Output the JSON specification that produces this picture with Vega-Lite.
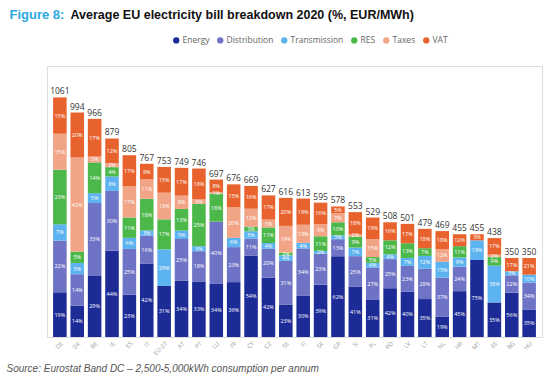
{
  "$schema": "https://vega.github.io/schema/vega-lite/v6.json",
  "autosize": {"type": "none"},
  "padding": {"left": 47, "top": 66, "right": 8, "bottom": 42},
  "width": 495,
  "height": 271,
  "background": "white",
  "datasets": {
    "seg": [
      {"c":"DE","k":"Energy","v":198,"p":0.19},{"c":"DE","k":"Distribution","v":229,"p":0.22},{"c":"DE","k":"Transmission","v":72,"p":0.07},{"c":"DE","k":"RES","v":242,"p":0.23},{"c":"DE","k":"Taxes","v":159,"p":0.15},{"c":"DE","k":"VAT","v":161,"p":0.15},
      {"c":"DK","k":"Energy","v":139,"p":0.14},{"c":"DK","k":"Distribution","v":139,"p":0.14},{"c":"DK","k":"Transmission","v":50,"p":0.05},{"c":"DK","k":"RES","v":50,"p":0.05},{"c":"DK","k":"Taxes","v":417,"p":0.42},{"c":"DK","k":"VAT","v":199,"p":0.20},
      {"c":"BE","k":"Energy","v":273,"p":0.29},{"c":"BE","k":"Distribution","v":320,"p":0.33},{"c":"BE","k":"Transmission","v":44,"p":0.05},{"c":"BE","k":"RES","v":136,"p":0.14},{"c":"BE","k":"Taxes","v":26,"p":0.03},{"c":"BE","k":"VAT","v":167,"p":0.17},
      {"c":"IE","k":"Energy","v":382,"p":0.44},{"c":"IE","k":"Distribution","v":265,"p":0.30},{"c":"IE","k":"Transmission","v":64,"p":0.08},{"c":"IE","k":"RES","v":41,"p":0.04},{"c":"IE","k":"Taxes","v":18,"p":0.02},{"c":"IE","k":"VAT","v":109,"p":0.12},
      {"c":"ES","k":"Energy","v":187,"p":0.23},{"c":"ES","k":"Distribution","v":203,"p":0.25},{"c":"ES","k":"Transmission","v":49,"p":0.06},{"c":"ES","k":"RES","v":90,"p":0.11},{"c":"ES","k":"Taxes","v":138,"p":0.17},{"c":"ES","k":"VAT","v":138,"p":0.17},
      {"c":"IT","k":"Energy","v":325,"p":0.42},{"c":"IT","k":"Distribution","v":124,"p":0.16},{"c":"IT","k":"Transmission","v":23,"p":0.03},{"c":"IT","k":"RES","v":140,"p":0.18},{"c":"IT","k":"Taxes","v":86,"p":0.11},{"c":"IT","k":"VAT","v":69,"p":0.09},
      {"c":"EU-27","k":"Energy","v":226,"p":0.31},{"c":"EU-27","k":"Transmission","v":162,"p":0.29},{"c":"EU-27","k":"RES","v":133,"p":0.17},{"c":"EU-27","k":"Taxes","v":118,"p":0.13},{"c":"EU-27","k":"VAT","v":114,"p":0.15},
      {"c":"AT","k":"Energy","v":250,"p":0.34},{"c":"AT","k":"Distribution","v":184,"p":0.25},{"c":"AT","k":"Transmission","v":37,"p":0.05},{"c":"AT","k":"RES","v":96,"p":0.13},{"c":"AT","k":"Taxes","v":59,"p":0.08},{"c":"AT","k":"VAT","v":123,"p":0.17},
      {"c":"PT","k":"Energy","v":246,"p":0.33},{"c":"PT","k":"Distribution","v":134,"p":0.18},{"c":"PT","k":"Transmission","v":22,"p":0.03},{"c":"PT","k":"RES","v":187,"p":0.25},{"c":"PT","k":"Taxes","v":22,"p":0.03},{"c":"PT","k":"VAT","v":135,"p":0.18},
      {"c":"LU","k":"Energy","v":235,"p":0.34},{"c":"LU","k":"Distribution","v":276,"p":0.40},{"c":"LU","k":"RES","v":124,"p":0.18},{"c":"LU","k":"Taxes","v":7,"p":0.01},{"c":"LU","k":"VAT","v":55,"p":0.08},
      {"c":"FR","k":"Energy","v":243,"p":0.36},{"c":"FR","k":"Distribution","v":155,"p":0.23},{"c":"FR","k":"Transmission","v":41,"p":0.06},{"c":"FR","k":"Taxes","v":135,"p":0.20},{"c":"FR","k":"VAT","v":102,"p":0.15},
      {"c":"CY","k":"Energy","v":361,"p":0.54},{"c":"CY","k":"Distribution","v":74,"p":0.11},{"c":"CY","k":"Transmission","v":33,"p":0.05},{"c":"CY","k":"RES","v":20,"p":0.03},{"c":"CY","k":"Taxes","v":80,"p":0.12},{"c":"CY","k":"VAT","v":101,"p":0.16},
      {"c":"CZ","k":"Energy","v":263,"p":0.42},{"c":"CZ","k":"Distribution","v":128,"p":0.20},{"c":"CZ","k":"Transmission","v":25,"p":0.04},{"c":"CZ","k":"RES","v":69,"p":0.11},{"c":"CZ","k":"Taxes","v":35,"p":0.03},{"c":"CZ","k":"VAT","v":107,"p":0.17},
      {"c":"SE","k":"Energy","v":144,"p":0.23},{"c":"SE","k":"Distribution","v":193,"p":0.31},{"c":"SE","k":"Transmission","v":25,"p":0.04},{"c":"SE","k":"RES","v":12,"p":0.02},{"c":"SE","k":"Taxes","v":118,"p":0.19},{"c":"SE","k":"VAT","v":124,"p":0.20},
      {"c":"FI","k":"Energy","v":184,"p":0.30},{"c":"FI","k":"Distribution","v":208,"p":0.34},{"c":"FI","k":"Transmission","v":25,"p":0.04},{"c":"FI","k":"Taxes","v":80,"p":0.13},{"c":"FI","k":"VAT","v":116,"p":0.19},
      {"c":"SK","k":"Energy","v":232,"p":0.39},{"c":"SK","k":"Distribution","v":137,"p":0.23},{"c":"SK","k":"Transmission","v":12,"p":0.02},{"c":"SK","k":"RES","v":65,"p":0.11},{"c":"SK","k":"Taxes","v":54,"p":0.09},{"c":"SK","k":"VAT","v":95,"p":0.16},
      {"c":"GR","k":"Energy","v":358,"p":0.62},{"c":"GR","k":"Distribution","v":75,"p":0.13},{"c":"GR","k":"Transmission","v":17,"p":0.03},{"c":"GR","k":"RES","v":58,"p":0.10},{"c":"GR","k":"Taxes","v":40,"p":0.07},{"c":"GR","k":"VAT","v":30,"p":0.05},
      {"c":"SI","k":"Energy","v":222,"p":0.41},{"c":"SI","k":"Distribution","v":136,"p":0.25},{"c":"SI","k":"Transmission","v":38,"p":0.07},{"c":"SI","k":"RES","v":49,"p":0.09},{"c":"SI","k":"Taxes","v":11,"p":0.02},{"c":"SI","k":"VAT","v":97,"p":0.18},
      {"c":"PL","k":"Energy","v":164,"p":0.31},{"c":"PL","k":"Distribution","v":143,"p":0.27},{"c":"PL","k":"Transmission","v":21,"p":0.04},{"c":"PL","k":"RES","v":26,"p":0.05},{"c":"PL","k":"Taxes","v":79,"p":0.15},{"c":"PL","k":"VAT","v":96,"p":0.19},
      {"c":"RO","k":"Energy","v":216,"p":0.42},{"c":"RO","k":"Distribution","v":129,"p":0.25},{"c":"RO","k":"Transmission","v":21,"p":0.04},{"c":"RO","k":"RES","v":62,"p":0.12},{"c":"RO","k":"VAT","v":80,"p":0.16},
      {"c":"LV","k":"Energy","v":200,"p":0.40},{"c":"LV","k":"Distribution","v":115,"p":0.23},{"c":"LV","k":"Transmission","v":35,"p":0.07},{"c":"LV","k":"RES","v":65,"p":0.13},{"c":"LV","k":"VAT","v":86,"p":0.17},
      {"c":"LT","k":"Energy","v":168,"p":0.35},{"c":"LT","k":"Distribution","v":134,"p":0.28},{"c":"LT","k":"Transmission","v":57,"p":0.12},{"c":"LT","k":"RES","v":34,"p":0.07},{"c":"LT","k":"VAT","v":86,"p":0.18},
      {"c":"NL","k":"Energy","v":89,"p":0.19},{"c":"NL","k":"Distribution","v":174,"p":0.37},{"c":"NL","k":"Transmission","v":70,"p":0.15},{"c":"NL","k":"Taxes","v":56,"p":0.12},{"c":"NL","k":"VAT","v":80,"p":0.18},
      {"c":"HR","k":"Energy","v":203,"p":0.45},{"c":"HR","k":"Distribution","v":108,"p":0.24},{"c":"HR","k":"Transmission","v":41,"p":0.09},{"c":"HR","k":"RES","v":50,"p":0.11},{"c":"HR","k":"VAT","v":53,"p":0.12},
      {"c":"MT","k":"Energy","v":341,"p":0.75},{"c":"MT","k":"Transmission","v":87,"p":0.18},{"c":"MT","k":"VAT","v":27,"p":0.03},
      {"c":"EE","k":"Energy","v":153,"p":0.35},{"c":"EE","k":"Transmission","v":163,"p":0.38},{"c":"EE","k":"RES","v":39,"p":0.09},{"c":"EE","k":"Taxes","v":9,"p":0.02},{"c":"EE","k":"VAT","v":74,"p":0.17},
      {"c":"BG","k":"Energy","v":196,"p":0.56},{"c":"BG","k":"Distribution","v":77,"p":0.22},{"c":"BG","k":"Transmission","v":18,"p":0.05},{"c":"BG","k":"VAT","v":59,"p":0.17},
      {"c":"HU","k":"Energy","v":122,"p":0.35},{"c":"HU","k":"Distribution","v":119,"p":0.34},{"c":"HU","k":"Transmission","v":35,"p":0.10},{"c":"HU","k":"VAT","v":74,"p":0.21}
    ],
    "tot": [
      {"c":"DE","t":1061},{"c":"DK","t":994},{"c":"BE","t":966},{"c":"IE","t":879},{"c":"ES","t":805},{"c":"IT","t":767},{"c":"EU-27","t":753},{"c":"AT","t":749},{"c":"PT","t":746},{"c":"LU","t":697},{"c":"FR","t":676},{"c":"CY","t":669},{"c":"CZ","t":627},{"c":"SE","t":616},{"c":"FI","t":613},{"c":"SK","t":595},{"c":"GR","t":578},{"c":"SI","t":553},{"c":"PL","t":529},{"c":"RO","t":508},{"c":"LV","t":501},{"c":"LT","t":479},{"c":"NL","t":469},{"c":"HR","t":455},{"c":"MT","t":455},{"c":"EE","t":438},{"c":"BG","t":350},{"c":"HU","t":350}
    ]
  },
  "resolve": {"axis": {"x": "independent", "y": "independent"}},
  "layer": [
    {
      "data": {"name": "seg"},
      "transform": [{"stack": "v", "groupby": ["c"], "as": ["v0", "v1"]}],
      "encoding": {
        "x": {
          "field": "c", "type": "nominal",
          "sort": ["DE","DK","BE","IE","ES","IT","EU-27","AT","PT","LU","FR","CY","CZ","SE","FI","SK","GR","SI","PL","RO","LV","LT","NL","HR","MT","EE","BG","HU"],
          "scale": {"paddingInner": 0.22, "paddingOuter": 0.35},
          "axis": {
            "orient": "bottom",
            "title": "Source: Eurostat Band DC \u2013 2,500-5,000kWh consumption per annum",
            "titleAnchor": "start", "titleAlign": "left", "titleX": -41, "titleY": 26,
            "titleFont": "Liberation Sans", "titleFontSize": 10, "titleFontStyle": "italic", "titleFontWeight": "normal", "titleColor": "#555555",
            "labelAngle": -45, "labelFontSize": 6, "labelColor": "#999999", "labelFont": "Open Sans", "labelPadding": 3,
            "domain": false, "ticks": false
          }
        }
      },
      "layer": [
        {
          "mark": {"type": "bar"},
          "encoding": {
            "y": {
              "field": "v0", "type": "quantitative",
              "scale": {"domain": [0, 1200]},
              "axis": {
                "orient": "left",
                "title": "EUR", "titleFontSize": 13, "titleFontWeight": "normal", "titleColor": "#aaaaaa", "titleFont": "Open Sans", "titlePadding": 10,
                "values": [0, 200, 400, 600, 800, 1000, 1200], "format": ",d",
                "labelFontSize": 6.5, "labelColor": "#999999", "labelFont": "Open Sans", "labelPadding": 3,
                "domain": false, "ticks": false, "gridColor": "#eeeeee"
              }
            },
            "y2": {"field": "v1"},
            "color": {
              "field": "k", "type": "nominal",
              "scale": {"domain": ["Energy","Distribution","Transmission","RES","Taxes","VAT"], "range": ["#1c2b96","#6f73c5","#5db3ef","#4cb84a","#f2a487","#e8622d"]},
              "legend": {
                "title": null, "orient": "none", "legendX": 125, "legendY": -30, "direction": "horizontal",
                "symbolType": "circle", "symbolSize": 40, "labelFontSize": 8.5, "labelColor": "#666666", "labelFont": "Open Sans",
                "columnPadding": 6, "symbolOffset": 0, "labelOffset": 2
              }
            }
          }
        },
        {
          "transform": [
            {"fold": ["v0", "v1"], "as": ["w", "val"]},
            {"aggregate": [{"op": "mean", "field": "val", "as": "mid"}], "groupby": ["c", "k", "p"]}
          ],
          "mark": {"type": "text", "fontSize": 5.5, "color": "white", "font": "Open Sans", "baseline": "middle"},
          "encoding": {
            "y": {"field": "mid", "type": "quantitative", "axis": null},
            "text": {"field": "p", "type": "quantitative", "format": ".0%"}
          }
        }
      ]
    },
    {
      "data": {"name": "tot"},
      "mark": {"type": "text", "fontSize": 8.5, "color": "#333333", "font": "Open Sans", "baseline": "bottom", "dy": -1},
      "encoding": {
        "x": {
          "field": "c", "type": "nominal",
          "sort": ["DE","DK","BE","IE","ES","IT","EU-27","AT","PT","LU","FR","CY","CZ","SE","FI","SK","GR","SI","PL","RO","LV","LT","NL","HR","MT","EE","BG","HU"],
          "axis": {
            "orient": "top",
            "title": "Average EU electricity bill breakdown 2020 (%, EUR/MWh)",
            "titleAnchor": "start", "titleAlign": "left", "titleBaseline": "alphabetic", "titleX": 23, "titleY": -48,
            "titleFont": "Liberation Sans", "titleFontSize": 12.5, "titleFontWeight": "bold", "titleColor": "#111111",
            "labels": false, "ticks": false, "domain": false, "grid": false
          }
        },
        "y": {
          "field": "t", "type": "quantitative",
          "axis": {
            "orient": "left",
            "title": "Figure 8:", "titleAngle": 0,
            "titleAnchor": "start", "titleAlign": "left", "titleBaseline": "alphabetic", "titleX": -38, "titleY": -48,
            "titleFont": "Liberation Sans", "titleFontSize": 13, "titleFontWeight": "bold", "titleColor": "#2aa8e0",
            "labels": false, "ticks": false, "domain": false, "grid": false
          }
        },
        "text": {"field": "t", "type": "quantitative", "format": "d"}
      }
    }
  ]
}
